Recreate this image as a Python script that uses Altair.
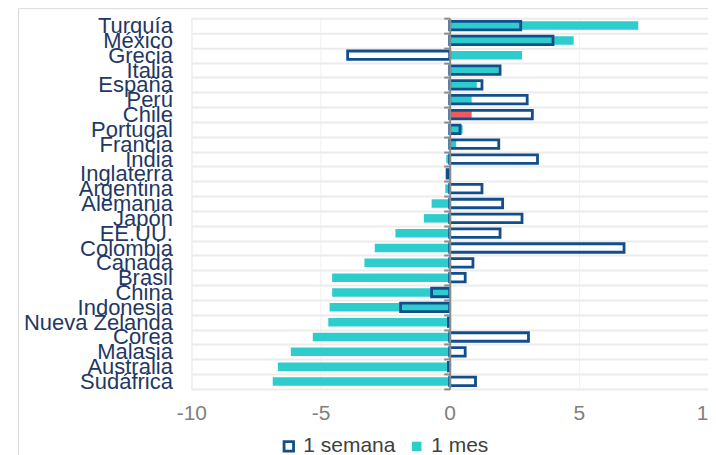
import altair as alt
import pandas as pd

paises = ["Turquía", "México", "Grecia", "Italia", "España", "Perú", "Chile",
          "Portugal", "Francia", "India", "Inglaterra", "Argentina", "Alemania",
          "Japón", "EE.UU.", "Colombia", "Canadá", "Brasil", "China", "Indonesia",
          "Nueva Zelanda", "Corea", "Malasia", "Australia", "Sudáfrica"]
semana = [2.75, 4.0, -3.95, 1.95, 1.25, 3.0, 3.2, 0.4, 1.9, 3.4, -0.1, 1.25, 2.05,
          2.8, 1.95, 6.75, 0.9, 0.6, -0.7, -1.9, -0.05, 3.05, 0.6, -0.05, 1.0]
mes = [7.3, 4.8, 2.8, 1.9, 1.05, 0.85, 0.85, 0.5, 0.25, -0.13, -0.08, -0.17, -0.7,
       -1.0, -2.1, -2.9, -3.3, -4.55, -4.55, -4.65, -4.7, -5.3, -6.15, -6.65, -6.85]
series = ["1 semana", "1 mes"]
ticks_x = [-10, -5, 0, 5, 10]

NAVY = "#124E8C"
CYAN = "#2ECDCD"
RED = "#F05A5A"
FONT = "Liberation Sans"
W, H = 517, 371

df = pd.DataFrame({
    "pais": paises * 2,
    "serie": ["1 mes"] * len(paises) + ["1 semana"] * len(paises),
    "valor": mes + semana,
})
tick_df = pd.DataFrame({"pais": paises, "valor": [0] * len(paises)})

xscale = alt.Scale(domain=[-10, 10], nice=False, zero=False)
yscale = alt.Scale(paddingInner=0, paddingOuter=0)
xaxis = alt.Axis(values=ticks_x, title=None, ticks=False, domain=False,
                 labelFont=FONT, labelFontSize=21, labelColor="#7f7f7f",
                 labelPadding=14, labelFlush=False, labelOverlap=False,
                 labelExpr="toString(datum.value)",
                 grid=True, gridColor="#f2f2f2", gridWidth=1)

leg = alt.Legend(orient="none", legendX=87, legendY=418, direction="horizontal",
                 title=None, symbolType="square", symbolSize=90,
                 symbolStrokeWidth=2.8, labelFontSize=21, labelColor="#404040",
                 labelFont=FONT, columnPadding=10, labelOffset=4, padding=0)

bars = alt.Chart(df).mark_bar(size=8.5, strokeWidth=2.8).encode(
    x=alt.X("valor:Q", stack=None, scale=xscale, axis=xaxis),
    y=alt.Y("pais:N", sort=paises, scale=yscale,
            axis=alt.Axis(title=None, ticks=False, domain=False, labelFont=FONT,
                          labelFontSize=22, labelColor="#1F3864", labelPadding=19,
                          grid=True, gridColor="#ececec", gridWidth=2,
                          tickBand="extent", labelLimit=400)),
    fill=alt.condition("datum.pais === 'Chile' && datum.serie === '1 mes'",
                       alt.value(RED),
                       alt.Fill("serie:N",
                                scale=alt.Scale(domain=series, range=["transparent", CYAN]),
                                legend=leg)),
    stroke=alt.Stroke("serie:N",
                      scale=alt.Scale(domain=series, range=[NAVY, "transparent"]),
                      legend=leg),
)

zero_axis = alt.Chart(tick_df).mark_point(opacity=0).encode(
    x=alt.X("valor:Q", scale=xscale, axis=xaxis),
    y=alt.Y("pais:N", sort=paises, scale=yscale,
            axis=alt.Axis(orient="left", offset=-W / 2, labels=False, ticks=True,
                          tickSize=6, tickWidth=2, tickColor="#8c8c8c", domain=True,
                          domainColor="#8c8c8c", domainWidth=2, grid=False,
                          tickBand="extent", title=None, zindex=1)),
)

frame = alt.Chart(pd.DataFrame({"a": [0]})).mark_rect(
    fill="transparent", stroke="#d9d9d9", strokeWidth=1
).encode(x=alt.value(-173), x2=alt.value(W + 100), y=alt.value(-9.5), y2=alt.value(H + 200))

chart = alt.layer(frame, bars, zero_axis).resolve_axis(y="independent").properties(
    width=W, height=H,
    padding={"left": 183.5, "top": 10, "right": 0, "bottom": 66},
    autosize=alt.AutoSizeParams(type="none"),
).configure_view(stroke=None).configure(font=FONT)

chart.save("out.html", embed_options={"renderer": "svg", "actions": False})
